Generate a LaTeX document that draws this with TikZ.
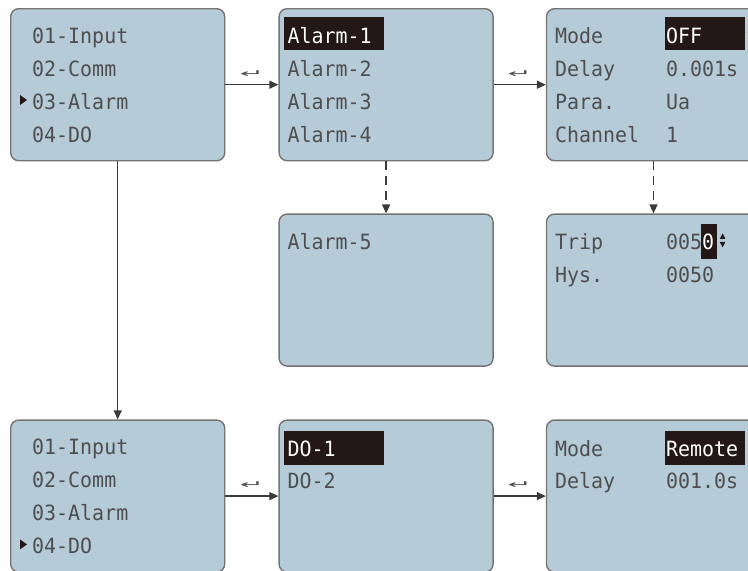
\documentclass[tikz,border=0pt]{standalone}
\usepackage{fontspec}
\newfontfamily\lcdfont[FakeStretch=0.95]{DejaVu Sans Mono}
\newfontfamily\symfont{DejaVu Sans}
\usetikzlibrary{arrows.meta,positioning}
\definecolor{lcdblue}{HTML}{B5CBD8}
\definecolor{lcdframe}{HTML}{747474}
\definecolor{lcdtext}{HTML}{4E4E4E}
\definecolor{lcdink}{HTML}{231815}
\definecolor{linkgray}{HTML}{3A3A3A}
\tikzset{
    %Define standard arrow tip
    >={Triangle[length=9pt,width=8pt]},
    %Define style for screens
    screen/.style={
           rectangle,
           rounded corners=8pt,
           draw=lcdframe, line width=1.4pt,
           fill=lcdblue,
           minimum width=214pt,
           minimum height=152pt},
    %Define style for screen texts
    lcd/.style={
           anchor=base west,
           inner sep=0pt,
           text=lcdtext,
           font=\lcdfont\fontsize{21}{21}\selectfont},
    %Define style for selected fields
    cursor/.style={
           rectangle,
           anchor=north west,
           fill=lcdink,
           inner sep=0pt},
    enter/.style={
           midway,
           above=7pt,
           inner sep=0pt,
           text=lcdtext,
           font=\symfont\fontsize{24}{24}\selectfont},
    % Define arrow style
    pil/.style={
           ->,
           draw=linkgray,
           line width=1.3pt},
    dsh/.style={
           dash pattern=on 9pt off 6pt}
}
\newcommand{\enterkey}{\scalebox{1.2}[0.45]{↵}}
% up/down marks: screen, x offset, baseline offset
\newcommand{\updown}[3]{%
    \fill[lcdink] ([shift={(#2,#3)}]#1.north west) ++(0pt,10.5pt) -- ++(2.8pt,5.5pt) -- ++(2.8pt,-5.5pt) -- cycle;
    \fill[lcdink] ([shift={(#2,#3)}]#1.north west) ++(0pt,7.5pt) -- ++(2.8pt,-5.5pt) -- ++(2.8pt,5.5pt) -- cycle;}

\begin{document}
\begin{tikzpicture}[x=1pt,y=1pt,node distance=52pt]
\useasboundingbox (0,0) rectangle (748,-571);
\clip (0,0) rectangle (748,-571);
 %screens

\node[screen, anchor=north west] (menuA) at (10,-8) {};
\node[screen, right=53pt of menuA] (alarmList) {};
\node[screen, right=of alarmList] (alarmSet) {};
\node[screen, below=of alarmList] (alarmMore) {};
\node[screen, below=of alarmSet] (tripSet) {};
\node[screen, below=258pt of menuA] (menuB) {};
\node[screen, right=53pt of menuB] (doList) {};
\node[screen, right=of doList] (doSet) {};

 %main menu, top
\node[lcd] (a1) at ([shift={(22pt,-35pt)}]menuA.north west) {01-Input};
\node[lcd] (a2) at ([shift={(22pt,-68pt)}]menuA.north west) {02-Comm};
\node[lcd] (a3) at ([shift={(22pt,-101pt)}]menuA.north west) {03-Alarm};
\node[lcd] (a4) at ([shift={(22pt,-134pt)}]menuA.north west) {04-DO};
\fill[lcdink] ([shift={(10pt,-87pt)}]menuA.north west) -- ++(7pt,-5pt) -- ++(-7pt,-5pt) -- cycle;

 %alarm list
\node[cursor, minimum width=100pt, minimum height=33pt] (selAl) at ([shift={(5pt,-9pt)}]alarmList.north west) {};
\node[lcd, text=white] (l1) at ([shift={(9pt,-35pt)}]alarmList.north west) {Alarm-1};
\node[lcd] (l2) at ([shift={(9pt,-68pt)}]alarmList.north west) {Alarm-2};
\node[lcd] (l3) at ([shift={(9pt,-101pt)}]alarmList.north west) {Alarm-3};
\node[lcd] (l4) at ([shift={(9pt,-134pt)}]alarmList.north west) {Alarm-4};
\node[lcd] (l5) at ([shift={(9pt,-36pt)}]alarmMore.north west) {Alarm-5};

 %alarm settings
\node[cursor, minimum width=80pt, minimum height=33pt] (selOff) at ([shift={(119pt,-9pt)}]alarmSet.north west) {};
\node[lcd] (s1) at ([shift={(9pt,-35pt)}]alarmSet.north west) {Mode};
\node[lcd] (s2) at ([shift={(9pt,-68pt)}]alarmSet.north west) {Delay};
\node[lcd] (s3) at ([shift={(9pt,-101pt)}]alarmSet.north west) {Para.};
\node[lcd] (s4) at ([shift={(9pt,-134pt)}]alarmSet.north west) {Channel};
\node[lcd, text=white] (v1) at ([shift={(120pt,-35pt)}]alarmSet.north west) {OFF};
\node[lcd] (v2) at ([shift={(120pt,-68pt)}]alarmSet.north west) {0.001s};
\node[lcd] (v3) at ([shift={(120pt,-101pt)}]alarmSet.north west) {Ua};
\node[lcd] (v4) at ([shift={(120pt,-134pt)}]alarmSet.north west) {1};
\updown{alarmSet}{202pt}{-35pt}

 %trip settings
\node[cursor, minimum width=16pt, minimum height=35pt] (selTrip) at ([shift={(155pt,-10pt)}]tripSet.north west) {};
\node[lcd] (t1) at ([shift={(9pt,-36pt)}]tripSet.north west) {Trip};
\node[lcd] (t2) at ([shift={(9pt,-69pt)}]tripSet.north west) {Hys.};
\node[lcd] (u1) at ([shift={(120pt,-36pt)}]tripSet.north west) {005\textcolor{white}{0}};
\node[lcd] (u2) at ([shift={(120pt,-69pt)}]tripSet.north west) {0050};
\updown{tripSet}{174pt}{-36pt}

 %main menu, bottom
\node[lcd] (b1) at ([shift={(22pt,-35pt)}]menuB.north west) {01-Input};
\node[lcd] (b2) at ([shift={(22pt,-68pt)}]menuB.north west) {02-Comm};
\node[lcd] (b3) at ([shift={(22pt,-101pt)}]menuB.north west) {03-Alarm};
\node[lcd] (b4) at ([shift={(22pt,-134pt)}]menuB.north west) {04-DO};
\fill[lcdink] ([shift={(10pt,-120pt)}]menuB.north west) -- ++(7pt,-5pt) -- ++(-7pt,-5pt) -- cycle;

 %DO list and settings
\node[cursor, minimum width=100pt, minimum height=34pt] (selDo) at ([shift={(5pt,-11pt)}]doList.north west) {};
\node[lcd, text=white] (d1) at ([shift={(9pt,-37pt)}]doList.north west) {DO-1};
\node[lcd] (d2) at ([shift={(9pt,-69pt)}]doList.north west) {DO-2};
\node[cursor, minimum width=80pt, minimum height=34pt] (selRem) at ([shift={(119pt,-11pt)}]doSet.north west) {};
\node[lcd] (m1) at ([shift={(9pt,-37pt)}]doSet.north west) {Mode};
\node[lcd] (m2) at ([shift={(9pt,-69pt)}]doSet.north west) {Delay};
\node[lcd, text=white] (w1) at ([shift={(120pt,-37pt)}]doSet.north west) {Remote};
\node[lcd] (w2) at ([shift={(120pt,-69pt)}]doSet.north west) {001.0s};
\updown{doSet}{202pt}{-37pt}

 \path
    (menuA) edge[pil] node[enter] {\enterkey} (alarmList)
    (alarmList) edge[pil] node[enter] {\enterkey} (alarmSet)
    (alarmList) edge[pil, dsh] (alarmMore)
    (alarmSet) edge[pil, dsh] (tripSet)
    (menuA) edge[pil] (menuB)
    (menuB) edge[pil] node[enter] {\enterkey} (doList)
    (doList) edge[pil] node[enter] {\enterkey} (doSet);
\end{tikzpicture}
\end{document}
